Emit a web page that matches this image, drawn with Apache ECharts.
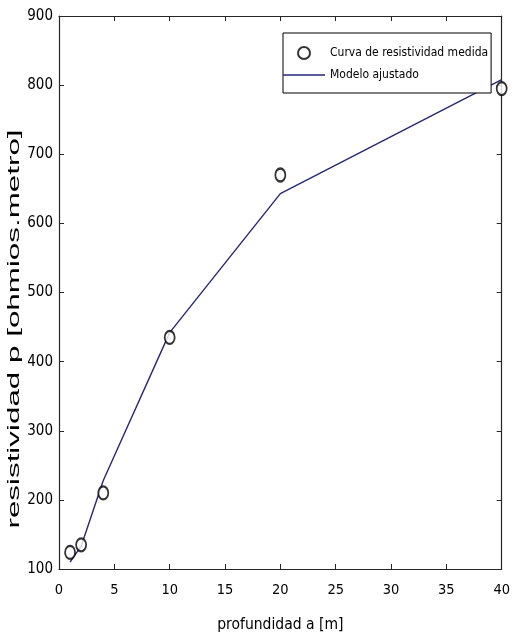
<!DOCTYPE html>
<html>
<head>
<meta charset="utf-8">
<script src="https://cdn.jsdelivr.net/npm/echarts@6/dist/echarts.min.js"></script>
<style>html,body{margin:0;padding:0;background:#fff;}#c{width:513px;height:642px;}</style>
</head>
<body>
<div id="c"></div>
<script>
const depth = [1, 2, 4, 10, 20, 40];
const measured = [124, 135, 210, 435, 670, 795];
const model = [110, 133, 228, 442, 643, 808];
const xTicks = [0, 5, 10, 15, 20, 25, 30, 35, 40];
const yTicks = [100, 200, 300, 400, 500, 600, 700, 800, 900];
const seriesNames = ['Curva de resistividad medida', 'Modelo ajustado'];
const xTitle = 'profundidad a [m]';
const yTitle = 'resistividad p [ohmios.metro]';

const NARROW = '"DejaVu Sans Condensed", "Liberation Sans Narrow", "Arial Narrow", sans-serif';
const AX = '#262626';

const chart = echarts.init(document.getElementById('c'), null, {renderer: 'canvas'});
const axisCommon = {
  type: 'value',
  axisLine: {show: true, onZero: false, lineStyle: {color: AX, width: 1.2}},
  axisTick: {show: true, inside: true, length: 5, lineStyle: {color: AX, width: 1}},
  splitLine: {show: false}
};
chart.setOption({
  backgroundColor: '#fff',
  animation: false,
  textStyle: {fontFamily: NARROW},
  grid: {left: 59, right: 8, top: 16, bottom: 73, containLabel: false},
  xAxis: [
    Object.assign({}, axisCommon, {
      min: xTicks[0], max: xTicks[xTicks.length - 1], interval: 5, position: 'bottom',
      name: xTitle, nameLocation: 'middle', nameGap: 48,
      nameTextStyle: {fontFamily: NARROW, fontSize: 15.5, color: '#000'},
      axisLabel: {show: true, margin: 14, fontFamily: NARROW, fontSize: 14.5, color: '#000'}
    }),
    Object.assign({}, axisCommon, {
      min: xTicks[0], max: xTicks[xTicks.length - 1], interval: 5, position: 'top',
      axisLabel: {show: false}
    })
  ],
  yAxis: [
    Object.assign({}, axisCommon, {
      min: yTicks[0], max: yTicks[yTicks.length - 1], interval: 100, position: 'left',
      axisLabel: {show: true, margin: 6, fontFamily: NARROW, fontSize: 15, color: '#000'}
    }),
    Object.assign({}, axisCommon, {
      min: yTicks[0], max: yTicks[yTicks.length - 1], interval: 100, position: 'right',
      axisLabel: {show: false}
    })
  ],
  legend: {
    left: 283, top: 33, orient: 'vertical',
    backgroundColor: '#fff', borderColor: '#000', borderWidth: 1, borderRadius: 0,
    padding: [13, 3, 12, 0], itemGap: 9, itemWidth: 42, itemHeight: 12,
    textStyle: {fontFamily: NARROW, fontSize: 12, color: '#000'},
    data: [
      {name: seriesNames[0], icon: 'emptyCircle'},
      {name: seriesNames[1], icon: 'path://M0,0 L60,0 L60,2 L0,2 Z'}
    ]
  },
  series: [
    {
      name: seriesNames[0], type: 'scatter',
      data: depth.map((d, i) => [d, measured[i]]),
      symbol: 'emptyCircle', symbolSize: [10, 13],
      itemStyle: {color: '#000', borderColor: '#000', borderWidth: 1},
      z: 3
    },
    {
      name: seriesNames[1], type: 'line',
      data: depth.map((d, i) => [d, model[i]]),
      symbol: 'none', lineStyle: {color: '#26267a', width: 1.4},
      itemStyle: {color: '#26267a'},
      z: 2
    }
  ],
  graphic: [{
    type: 'text', x: 15, y: 329, rotation: Math.PI / 2, scaleX: 1.96,
    style: {text: yTitle, font: '16px "Liberation Sans", Arial, sans-serif', fill: '#000', align: 'center', verticalAlign: 'middle'}
  }]
});
</script>
</body>
</html>
